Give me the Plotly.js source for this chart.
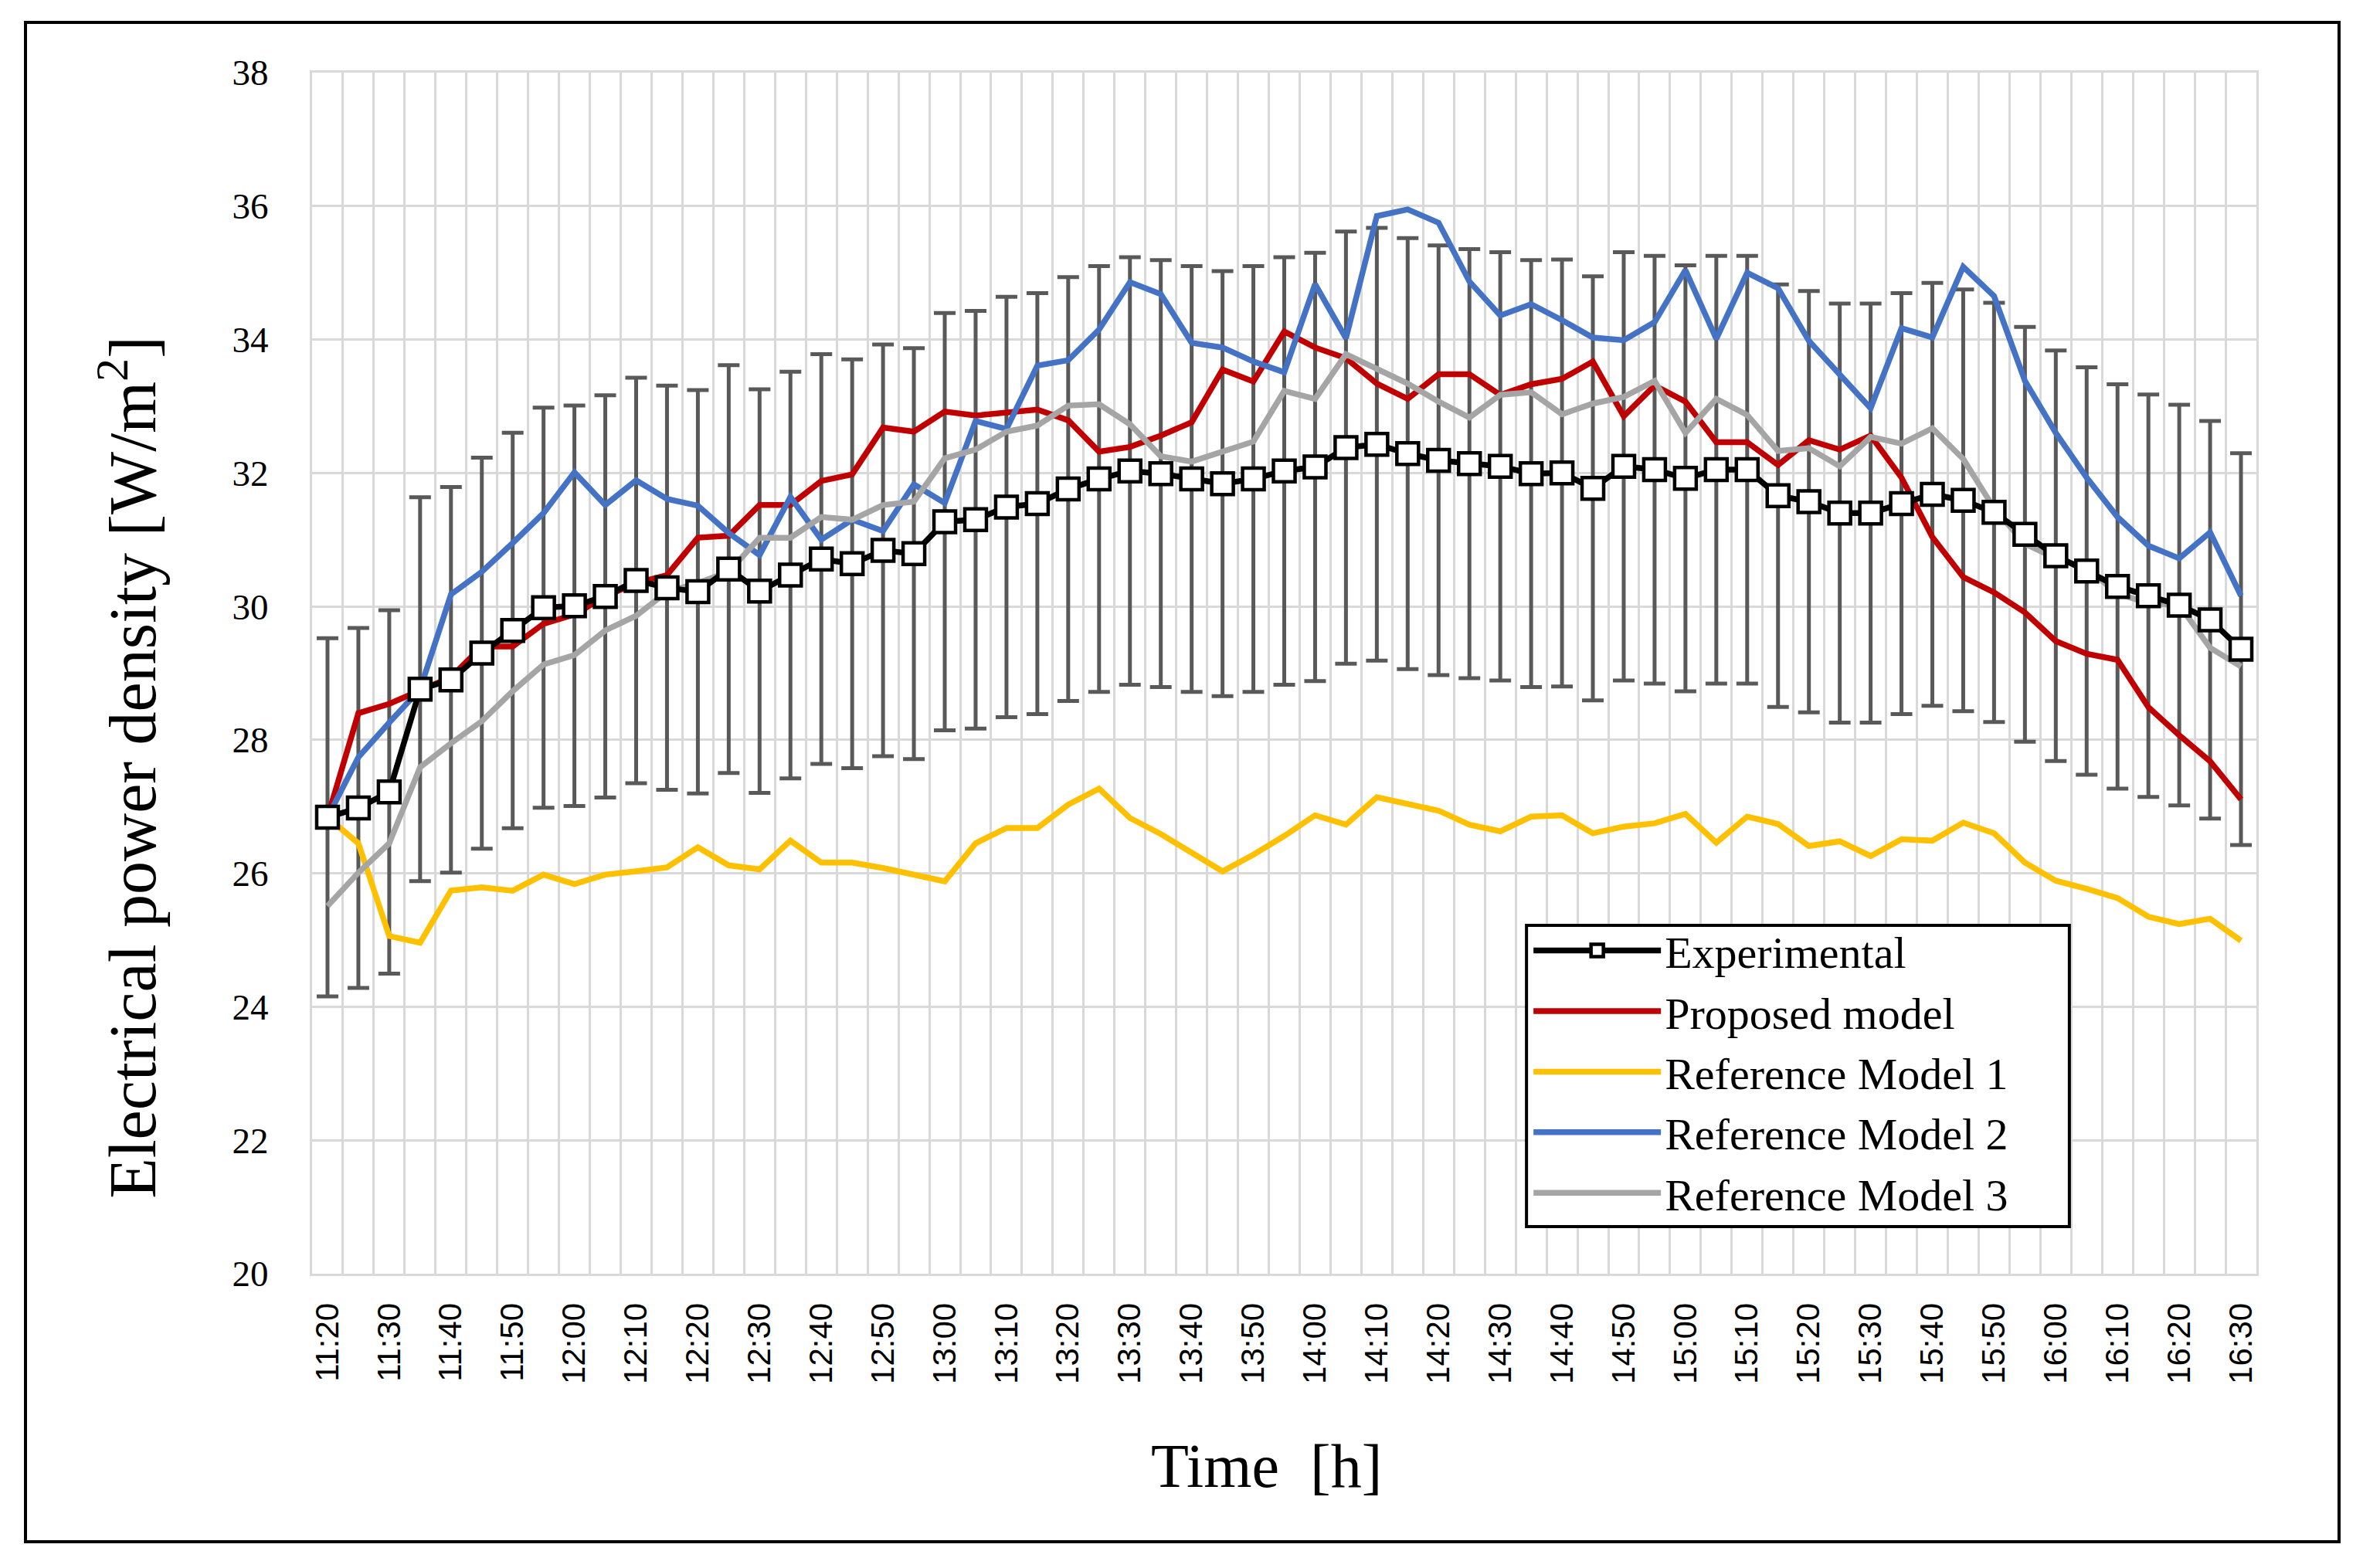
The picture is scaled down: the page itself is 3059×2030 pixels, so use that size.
<!DOCTYPE html>
<html>
<head>
<meta charset="utf-8">
<script src="https://cdn.plot.ly/plotly-3.0.1.min.js"></script>
<style>
  html, body { margin: 0; padding: 0; background: #ffffff; }
  #chart { position: absolute; left: 0; top: 0; width: 3059px; height: 2030px; }
  #frame { position: absolute; left: 31px; top: 27px; width: 2999px; height: 1971px;
           border: 4px solid #000; box-sizing: border-box; pointer-events: none; }
</style>
</head>
<body>
<div id="chart"></div>
<div id="frame"></div>
<script>
// Time stamps (5-minute steps)
const times = ["11:20","11:25","11:30","11:35","11:40","11:45","11:50","11:55",
  "12:00","12:05","12:10","12:15","12:20","12:25","12:30","12:35","12:40","12:45","12:50","12:55",
  "13:00","13:05","13:10","13:15","13:20","13:25","13:30","13:35","13:40","13:45","13:50","13:55",
  "14:00","14:05","14:10","14:15","14:20","14:25","14:30","14:35","14:40","14:45","14:50","14:55",
  "15:00","15:05","15:10","15:15","15:20","15:25","15:30","15:35","15:40","15:45","15:50","15:55",
  "16:00","16:05","16:10","16:15","16:20","16:25","16:30"];

const experimental = [26.84,26.98,27.22,28.76,28.90,29.30,29.64,29.98,30.01,30.15,30.39,30.28,30.22,30.56,30.23,30.47,
  30.71,30.64,30.84,30.79,31.27,31.30,31.49,31.54,31.76,31.91,32.03,31.99,31.91,31.84,31.91,32.03,
  32.09,32.38,32.43,32.29,32.19,32.14,32.10,31.99,32.00,31.77,32.10,32.05,31.92,32.05,32.05,31.66,
  31.57,31.40,31.40,31.54,31.68,31.59,31.41,31.08,30.76,30.53,30.30,30.16,30.02,29.80,29.36];

const proposed = [26.84,28.40,28.54,28.74,28.94,29.40,29.40,29.74,29.88,30.15,30.35,30.47,31.03,31.06,31.52,31.52,
  31.88,31.98,32.68,32.62,32.92,32.86,32.91,32.95,32.79,32.32,32.39,32.56,32.76,33.55,33.37,34.12,
  33.88,33.72,33.34,33.11,33.48,33.48,33.17,33.33,33.41,33.67,32.85,33.31,33.07,32.46,32.46,32.12,
  32.49,32.35,32.56,31.93,31.04,30.44,30.21,29.91,29.48,29.29,29.20,28.49,28.07,27.68,27.11];

const refModel1 = [26.84,26.45,25.06,24.96,25.74,25.79,25.74,25.98,25.84,25.98,26.03,26.09,26.39,26.12,26.06,26.49,
  26.16,26.16,26.08,25.98,25.88,26.45,26.68,26.68,27.03,27.27,26.83,26.59,26.32,26.03,26.28,26.56,
  26.87,26.73,27.14,27.04,26.94,26.73,26.63,26.85,26.87,26.60,26.70,26.75,26.89,26.46,26.85,26.74,
  26.41,26.48,26.26,26.51,26.49,26.76,26.60,26.16,25.89,25.77,25.63,25.35,25.24,25.32,24.99];

const refModel2 = [26.84,27.74,28.26,28.76,30.18,30.52,30.95,31.40,32.01,31.52,31.89,31.61,31.51,31.10,30.77,31.64,
  31.00,31.30,31.13,31.83,31.55,32.78,32.66,33.61,33.69,34.15,34.86,34.68,33.95,33.88,33.67,33.51,
  34.83,34.02,35.85,35.95,35.75,34.87,34.36,34.53,34.29,34.03,33.99,34.26,35.04,34.01,35.00,34.77,
  33.98,33.48,32.97,34.17,34.03,35.09,34.65,33.38,32.60,31.93,31.34,30.91,30.72,31.11,30.16];

const refModel3 = [25.51,26.01,26.45,27.59,27.95,28.28,28.73,29.13,29.27,29.64,29.86,30.22,30.35,30.52,31.03,31.03,
  31.34,31.30,31.52,31.57,32.22,32.35,32.62,32.71,33.01,33.03,32.73,32.25,32.17,32.32,32.47,33.23,
  33.11,33.78,33.55,33.34,33.07,32.83,33.17,33.21,32.88,33.04,33.14,33.38,32.60,33.11,32.87,32.33,
  32.37,32.10,32.54,32.44,32.67,32.21,31.47,30.94,30.72,30.58,30.19,30.05,30.02,29.38,29.10];

// Error bars: +/- 10 % of the experimental value
const errorPercent = 10;

// Tick labels every 10 minutes
const tickLabels = ["11:20","11:30","11:40","11:50","12:00","12:10","12:20","12:30","12:40","12:50",
  "13:00","13:10","13:20","13:30","13:40","13:50","14:00","14:10","14:20","14:30","14:40","14:50",
  "15:00","15:10","15:20","15:30","15:40","15:50","16:00","16:10","16:20","16:30"];

const xTitle = "Time  [h]";
const yTitle = "Electrical power density [W/m<sup>2</sup>]";

const idx = times.map((t, i) => i);
const tickIdx = tickLabels.map(l => times.indexOf(l));

const serif = "Liberation Serif, Times New Roman, serif";
const LW = 7.5;

const traces = [
  { x: idx, y: experimental, type: "scatter", mode: "markers", showlegend: false,
    marker: { size: 1, opacity: 0 }, hoverinfo: "skip",
    error_y: { type: "percent", value: errorPercent, color: "#595959", thickness: 5, width: 14 } },
  { x: idx, y: proposed, type: "scatter", mode: "lines", name: "Proposed model", legendrank: 2,
    line: { color: "#C00000", width: LW } },
  { x: idx, y: refModel1, type: "scatter", mode: "lines", name: "Reference Model 1", legendrank: 3,
    line: { color: "#FFC000", width: LW } },
  { x: idx, y: refModel2, type: "scatter", mode: "lines", name: "Reference Model 2", legendrank: 4,
    line: { color: "#4472C4", width: LW } },
  { x: idx, y: refModel3, type: "scatter", mode: "lines", name: "Reference Model 3", legendrank: 5,
    line: { color: "#A5A5A5", width: LW } },
  { x: idx, y: experimental, type: "scatter", mode: "lines+markers", name: "Experimental", legendrank: 1,
    line: { color: "#000000", width: LW },
    marker: { symbol: "square", size: 28, color: "#ffffff", line: { color: "#000000", width: 4.5 } } }
];

const layout = {
  width: 3059, height: 2030,
  margin: { l: 404, r: 138, t: 94, b: 381 },
  paper_bgcolor: "#ffffff", plot_bgcolor: "#ffffff",
  showlegend: true,
  xaxis: {
    range: [-0.5, times.length - 0.5],
    tickmode: "array", tickvals: tickIdx, ticktext: tickLabels,
    tickangle: -90, ticks: "", showgrid: false, zeroline: false,
    ticklabelstandoff: 18,
    tickfont: { family: "Liberation Sans, Arial, sans-serif", size: 42, color: "#000" },
    minor: { tickmode: "linear", tick0: -0.5, dtick: 1, showgrid: true, gridcolor: "#D9D9D9", gridwidth: 3, ticks: "" },
    showline: true, linecolor: "#D9D9D9", linewidth: 3, mirror: true,
    automargin: false
  },
  yaxis: {
    range: [20, 38], dtick: 2, tick0: 20,
    showgrid: true, gridcolor: "#D9D9D9", gridwidth: 3, zeroline: false, ticks: "",
    ticklabelstandoff: 44,
    tickfont: { family: serif, size: 47, color: "#000" },
    showline: true, linecolor: "#D9D9D9", linewidth: 3, mirror: true,
    automargin: false
  },
  annotations: [
    { text: yTitle, xref: "paper", yref: "paper", x: -0.0946, y: 0.4219,
      xanchor: "center", yanchor: "middle", textangle: -90, showarrow: false,
      font: { family: serif, size: 86, color: "#000" } },
    { text: xTitle, xref: "paper", yref: "paper", x: 0.4907, y: -0.160,
      xanchor: "center", yanchor: "middle", showarrow: false,
      font: { family: serif, size: 80, color: "#000" } }
  ],
  shapes: [
    // legend frame
    { type: "rect", xref: "paper", yref: "paper", x0: 0.6246, x1: 0.9038, y0: 0.0392, y1: 0.290,
      line: { color: "#000000", width: 4 }, fillcolor: "#ffffff", layer: "above" }
  ],
  legend: {
    x: 0.6262, y: 0.2975, xanchor: "left", yanchor: "top",
    bgcolor: "rgba(0,0,0,0)", borderwidth: 0,
    font: { family: serif, size: 58, color: "#000" },
    itemwidth: 165, traceorder: "normal", tracegroupgap: 0
  }
};

Plotly.newPlot("chart", traces, layout, { displayModeBar: false, staticPlot: true });
</script>
</body>
</html>
